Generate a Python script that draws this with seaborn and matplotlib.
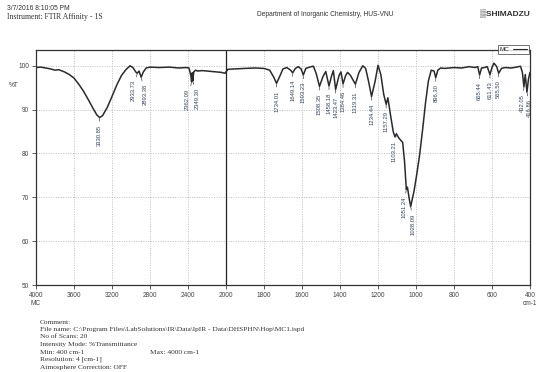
import numpy as np
import pandas as pd
import matplotlib
matplotlib.use("Agg")
import matplotlib.pyplot as plt
import seaborn as sns

# ---- data (wavenumber cm-1, %T) ----
wavenumber = [4000, 3950, 3900, 3850, 3800, 3760, 3700, 3650, 3600, 3550, 3500, 3450, 3400,
              3360, 3331, 3300, 3250, 3200, 3150, 3100, 3050, 3010, 2980, 2950, 2934, 2915,
              2893, 2870, 2840, 2800, 2700, 2600, 2500, 2420, 2390, 2370, 2362, 2355, 2349,
              2340, 2320, 2300, 2250, 2200, 2150, 2100, 2050, 2010, 1990, 1950, 1900, 1850,
              1800, 1770, 1750, 1734, 1715, 1700, 1680, 1660, 1649, 1635, 1620, 1605, 1593,
              1580, 1560, 1540, 1525, 1508, 1490, 1475, 1458, 1445, 1435, 1423, 1405, 1395,
              1384, 1370, 1360, 1345, 1319, 1300, 1280, 1265, 1250, 1234, 1215, 1200, 1185,
              1170, 1157, 1148, 1135, 1120, 1111, 1103, 1090, 1070, 1060, 1051, 1045, 1035,
              1028, 1010, 995, 980, 965, 950, 935, 920, 905, 896, 885, 870, 850, 800, 760,
              720, 690, 675, 665, 655, 640, 625, 611, 600, 590, 575, 565, 550, 530, 500,
              470, 450, 440, 432, 425, 416, 408, 400]
transmittance = [99.6, 99.7, 99.5, 99.3, 99.0, 99.1, 98.6, 98.0, 97.2, 95.8, 94.2, 92.3, 90.3,
                 88.8, 88.2, 88.6, 90.5, 93.0, 95.6, 97.8, 99.2, 100.0, 99.6, 98.6, 98.3, 98.8,
                 97.4, 98.6, 99.5, 99.7, 99.6, 99.7, 99.5, 99.6, 99.5, 97.8, 96.3, 98.4, 96.6,
                 98.6, 99.0, 98.8, 98.9, 98.8, 98.7, 98.6, 98.5, 98.3, 99.2, 99.3, 99.4, 99.5,
                 99.4, 99.0, 97.5, 96.0, 97.8, 99.3, 99.6, 99.0, 98.4, 99.4, 99.8, 99.3, 97.9,
                 99.4, 99.7, 99.9, 98.2, 95.3, 97.5, 98.7, 95.4, 97.6, 98.9, 94.6, 97.8, 98.6,
                 95.9, 97.8, 98.5, 97.8, 95.8, 98.5, 100.0, 99.4, 96.5, 93.0, 96.5, 100.1, 98.0,
                 93.5, 91.2, 92.7, 89.0, 85.0, 83.8, 84.5, 83.5, 82.5, 78.0, 71.8, 72.3, 69.5,
                 67.9, 71.5, 75.5, 80.0, 85.5, 91.5, 96.5, 99.0, 98.8, 97.3, 99.0, 99.5, 99.4,
                 99.6, 99.5, 99.8, 99.6, 99.8, 97.9, 99.5, 99.6, 99.8, 98.0, 99.6, 100.6, 99.8,
                 98.3, 99.4, 99.6, 99.5, 99.7, 99.9, 98.5, 95.2, 98.0, 94.0, 97.0, 98.5]

peak_labels = ["3330.85", "2933.73", "2893.38", "2362.09", "2349.30", "1734.01", "1649.14",
               "1593.23", "1508.35", "1458.18", "1423.47", "1384.46", "1319.31", "1234.44",
               "1157.29", "1103.21", "1051.24", "1028.09", "896.30", "665.44", "611.43",
               "565.50", "432.05", "416.86"]
peak_wn = [3331, 2934, 2893, 2362, 2349, 1734, 1649, 1593, 1508, 1458, 1423, 1384, 1319, 1234,
           1157, 1103, 1051, 1028, 896, 665, 611, 565, 432, 416]
peak_t = [88.2, 98.3, 97.4, 96.3, 96.6, 96.0, 98.4, 97.9, 95.3, 95.4, 94.6, 95.9, 95.8, 93.0,
          91.2, 84.5, 71.8, 67.9, 97.3, 97.9, 98.0, 98.3, 95.2, 94.0]
peak_dx = [0, -3, 3, -3, 3, 0, 0, 0, 0, 0, 0, 0, 0, 0, 0, -2, -2, 2, 0, 0, 0, 0, -1, 2]

x_major = [4000, 3600, 3200, 2800, 2400, 2000, 1800, 1600, 1400, 1200, 1000, 800, 600, 400]
y_major = [50, 60, 70, 80, 90, 100]

df = pd.DataFrame({"wn": wavenumber, "T": transmittance})

sns.set_theme(style="white")
plt.rcParams["font.family"] = ["Liberation Sans", "DejaVu Sans"]

W, H = 536, 372
fig = plt.figure(figsize=(W / 100, H / 100), dpi=100)
L, R, T, B = 36, 530, 50, 285
ax = fig.add_axes([L / W, 1 - B / H, (R - L) / W, (B - T) / H])


def fwd(w):
    w = np.asarray(w, dtype=float)
    return np.where(w <= 2000, w, 2000 + (w - 2000) / 2.0)


def inv(t):
    t = np.asarray(t, dtype=float)
    return np.where(t <= 2000, t, 2000 + (t - 2000) * 2.0)


ax.set_xscale("function", functions=(fwd, inv))

sns.lineplot(data=df, x="wn", y="T", sort=False, color="#2b2b2b", lw=1.1, ax=ax,
             label="MC", estimator=None)

ax.set_xlim(4000, 400)
ax.set_ylim(50, 103.6)
ax.set_xticks(x_major)
ax.set_xticklabels([str(v) for v in x_major])
minor_x = [v for v in range(4000, 2000, -100) if v not in x_major] + \
          [v for v in range(2000, 399, -50) if v not in x_major]
ax.set_xticks(minor_x, minor=True)
ax.set_yticks(y_major)
ax.set_yticks([v for v in range(50, 104, 2) if v not in y_major], minor=True)
ax.tick_params(axis="both", which="major", labelsize=4.7, length=3, width=0.6,
               direction="out", colors="#444444", pad=2)
ax.tick_params(axis="both", which="minor", length=1.8, width=0.5, direction="out",
               colors="#444444")
ax.tick_params(axis="x", bottom=True)
ax.tick_params(axis="y", left=True)
ax.set_xlabel("")
ax.set_ylabel("")
ax.grid(True, which="major", linestyle=(0, (1.5, 2)), color="#aaaaaa", lw=0.5)
ax.axvline(2000, color="#222222", lw=0.9)
for s in ax.spines.values():
    s.set_color("#333333")
    s.set_linewidth(0.9)

ax.text(-0.035, 95.4, "%T", transform=ax.get_yaxis_transform(), fontsize=4.7,
        ha="right", va="center", color="#444444")
ax.text(0.0, -0.065, "MC", transform=ax.transAxes, fontsize=4.7, ha="center", va="top",
        color="#444444")
ax.text(1.0, -0.065, "cm-1", transform=ax.transAxes, fontsize=4.7, ha="center", va="top",
        color="#444444")

for lab, wn, tt, dx in zip(peak_labels, peak_wn, peak_t, peak_dx):
    ax.annotate(lab, xy=(wn, tt), xytext=(dx, -5), textcoords="offset points",
                rotation=90, ha="center", va="top", fontsize=4.2, color="#34465a",
                arrowprops=dict(arrowstyle="-", lw=0.5, color="#34465a",
                                shrinkA=0, shrinkB=0.5))

leg = ax.legend(loc="upper right", bbox_to_anchor=(1.0, 1.025), fontsize=4.5,
                handlelength=2.2, markerfirst=False, frameon=True, fancybox=False,
                borderpad=0.25, handletextpad=0.6, borderaxespad=0.2)
leg.get_frame().set_edgecolor("#333333")
leg.get_frame().set_linewidth(0.6)
for line in leg.get_lines():
    line.set_linewidth(0.8)

# header
fig.text(7 / W, 1 - 9 / H, "3/7/2016 8:10:05 PM", fontsize=4.9, ha="left", va="center",
         color="#333333")
fig.text(7 / W, 1 - 17 / H, "Instrument: FTIR Affinity - 1S", fontsize=5.6, ha="left",
         va="center", color="#333333", family=["Liberation Serif", "DejaVu Serif"])
fig.text(325 / W, 1 - 14 / H, "Department of Inorganic Chemistry, HUS-VNU", fontsize=4.8,
         ha="center", va="center", color="#333333")
fig.text(530 / W, 1 - 14 / H, "\u2592SHIMADZU", fontsize=6, ha="right", va="center",
         color="#333333", fontweight="bold")

# footer
serif = ["Liberation Serif", "DejaVu Serif"]
foot = ["Comment:",
        "File name: C:\\Program Files\\LabSolutions\\IR\\Data\\IpIR - Data\\DHSPHN\\Hop\\MC1.ispd",
        "No of Scans: 20",
        "Intensity Mode: %Transmittance",
        "Min: 400 cm-1",
        "Resolution: 4 [cm-1]",
        "Atmosphere Correction: OFF"]
for i, line in enumerate(foot):
    fig.text(40 / W, 1 - (322 + i * 7.5) / H, line, fontsize=5.3, ha="left", va="center",
             color="#333333", family=serif)
fig.text(150 / W, 1 - (322 + 4 * 7.5) / H, "Max: 4000 cm-1", fontsize=5.3, ha="left",
         va="center", color="#333333", family=serif)

fig.savefig("out.png", dpi=100, facecolor="white")
